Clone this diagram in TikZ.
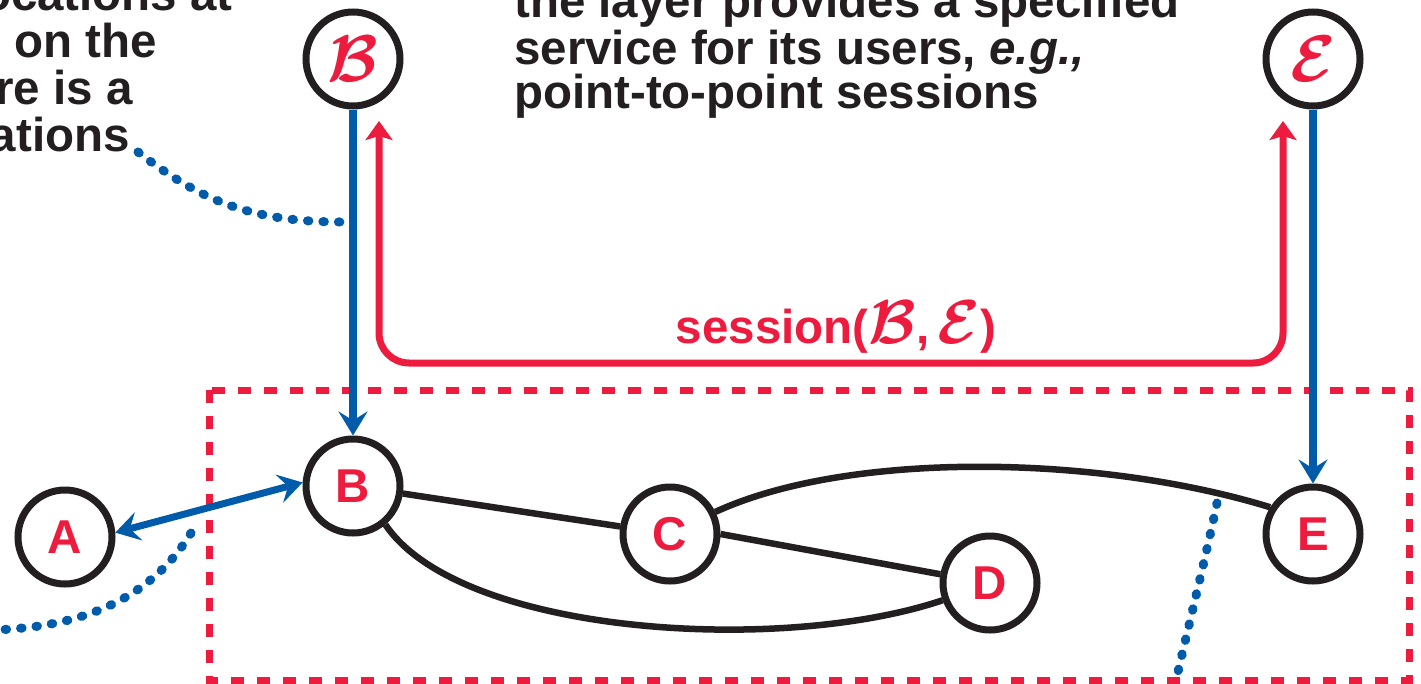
\RequirePackage{fix-cm}
\documentclass[tikz,border=0pt]{standalone}
\usepackage{amsmath}
\usepackage{fontspec}
\setmainfont{Liberation Sans}
\usetikzlibrary{arrows.meta}

\definecolor{netred}{RGB}{237,28,62}
\definecolor{netblue}{RGB}{0,92,170}
\definecolor{netblack}{RGB}{35,31,32}

% bold calligraphic letters for the users of the layer
\newcommand{\usr}[1]{\ensuremath{\boldsymbol{\mathcal{#1}}}}

\begin{document}
\begin{tikzpicture}[x=1pt,y=-1pt,
  host/.style={circle, draw=netblack, line width=7pt, minimum size=94pt,
    inner sep=0pt, text=netred, font=\fontsize{47.5}{47.5}\selectfont\bfseries},
  user/.style={host, font=\fontsize{66}{66}\selectfont},
  link/.style={draw=netblack, line width=6.5pt},
  access/.style={draw=netblue, line width=8pt,
    -{Stealth[length=24pt,width=29pt,inset=9pt]}},
  accessboth/.style={draw=netblue, line width=7pt,
    {Stealth[length=24pt,width=29pt,inset=9pt]}-{Stealth[length=24pt,width=29pt,inset=9pt]}},
  pointer/.style={draw=netblue, line width=9pt, line cap=round,
    dash pattern=on 1.5pt off 14pt},
  service/.style={draw=netred, line width=7pt, rounded corners=30pt,
    {Stealth[length=19pt,width=27pt,inset=4pt]}-{Stealth[length=19pt,width=27pt,inset=4pt]}},
  boundary/.style={draw=netred, line width=7pt, dash pattern=on 13pt off 13pt},
  caption/.style={font=\fontsize{47.5}{47.5}\selectfont\bfseries,
    text=netblack, inner sep=0pt}
]
\useasboundingbox (0,0) rectangle (1421,683);
\fill[white] (0,0) rectangle (1421,683);
\clip (0,0) rectangle (1421,683);

% explanatory text
\node[caption, anchor=base east] (t1) at (233,10) {ocations at};
\node[caption, anchor=base east] (t2) at (157,57) {on the};
\node[caption, anchor=base east] (t3) at (133,104) {re is a};
\node[caption, anchor=base east] (t4) at (130,151) {ations};

\node[caption, anchor=base west] (m1) at (514,17) {the layer provides a specified};
\node[caption, anchor=base west] (m2) at (514,64) {service for its users, \textit{e.g.,}};
\node[caption, anchor=base west] (m3) at (514,108) {point-to-point sessions};

% network boundary
\draw[boundary] (209,390) rectangle (1409,680);

% users and hosts
\node[user] (uB) at (353,59) {\usr{B}};
\node[user] (uE) at (1313,59) {\usr{E}};
\node[host] (A) at (65,537) {A};
\node[host] (B) at (353,486) {B};
\node[host] (C) at (670,534) {C};
\node[host] (D) at (990,583) {D};
\node[host] (E) at (1313,534) {E};

% links
\draw[link] (B) -- (C);
\draw[link] (C.0) -- (D.170);
\draw[link] (B.-50) .. controls (460,635) and (780,655) .. (D.200);
\draw[link] (C.26) .. controls (850,450) and (1100,455) .. (E.148);

% access from users to hosts
\draw[access] (uB) -- (B);
\draw[access] (uE) -- (E);
\draw[accessboth] (A.5) -- (B.176);

% the session offered by the layer
\coordinate (sB) at (379,121);
\coordinate (sE) at (1283,121);
\coordinate (sLow) at (831,363);
\draw[service] (sB) |- (sLow) -| (sE);
\node[text=netred, font=\fontsize{47.5}{47.5}\selectfont\bfseries, inner sep=0pt,
  anchor=base] (sesLabel) at (836,343)
  {session({\fontsize{62}{62}\selectfont\usr{B}},\,{\fontsize{62}{62}\selectfont\usr{E}})};

% dotted pointers from the text
\coordinate (p1a) at (138,152);
\coordinate (p1b) at (343,222);
\draw[pointer] (p1a) .. controls (200,200) and (250,222) .. (p1b);
\coordinate (p2a) at (191,533);
\coordinate (p2b) at (-10,630);
\draw[pointer] (p2a) .. controls (150,600) and (80,628) .. (p2b);
\coordinate (p3a) at (1217,503);
\coordinate (p3b) at (1177,676);
\draw[pointer] (p3a) .. controls (1205,560) and (1190,620) .. (p3b);
\end{tikzpicture}
\end{document}
